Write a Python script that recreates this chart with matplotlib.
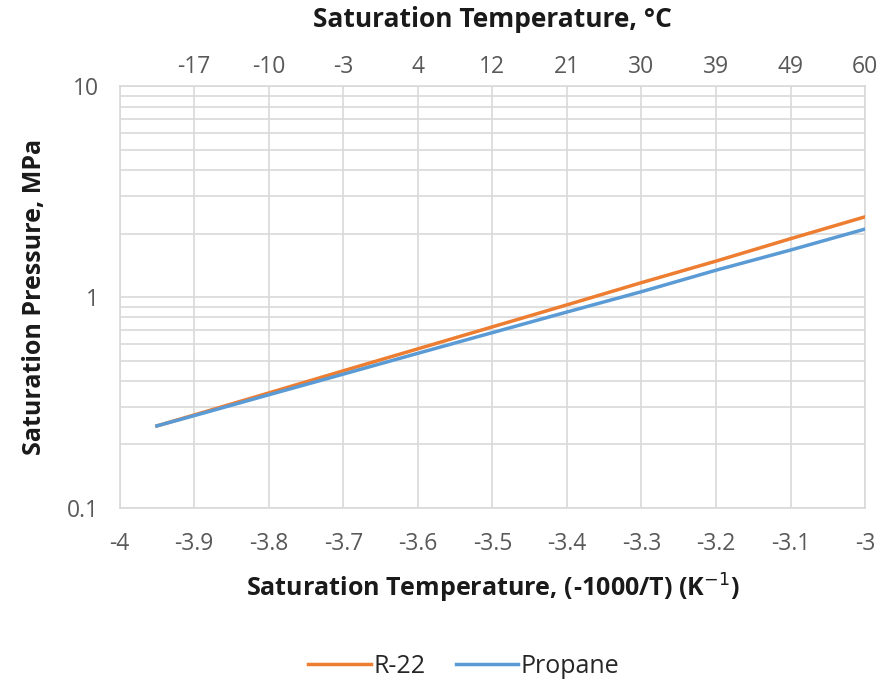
import matplotlib.pyplot as plt
from matplotlib.ticker import LogLocator, NullFormatter, FixedLocator

# inverse temperature, -1000/T (1/K)
x_inv = [-3.95, -3.9, -3.8, -3.7, -3.6, -3.5, -3.4, -3.3, -3.2, -3.1, -3.0]
r22 = [0.245, 0.276, 0.351, 0.447, 0.568, 0.722, 0.918, 1.17, 1.48, 1.89, 2.40]
propane = [0.245, 0.274, 0.344, 0.431, 0.541, 0.678, 0.849, 1.06, 1.34, 1.67, 2.10]

bottom_ticks = [-4, -3.9, -3.8, -3.7, -3.6, -3.5, -3.4, -3.3, -3.2, -3.1, -3]
bottom_labels = ['-4', '-3.9', '-3.8', '-3.7', '-3.6', '-3.5', '-3.4', '-3.3', '-3.2', '-3.1', '-3']
top_ticks = [-3.9, -3.8, -3.7, -3.6, -3.5, -3.4, -3.3, -3.2, -3.1, -3.0]
top_labels = ['-17', '-10', '-3', '4', '12', '21', '30', '39', '49', '60']

plt.rcParams['font.family'] = ['Open Sans', 'DejaVu Sans']
GRID = '#d9d9d9'
TXT = '#595959'

fig = plt.figure(figsize=(8.8, 6.86), dpi=100)
ax = fig.add_axes([0.136, 0.2595, 0.847, 0.615])

ax.plot(x_inv, r22, color='#ed7d31', lw=2.5, label='R-22', zorder=3)
ax.plot(x_inv, propane, color='#5b9bd5', lw=2.5, label='Propane', zorder=3)

ax.set_yscale('log')
ax.set_ylim(0.1, 10)
ax.set_xlim(-4, -3)
ax.set_xticks(bottom_ticks)
ax.set_xticklabels(bottom_labels)
ax.set_yticks([0.1, 1, 10])
ax.set_yticklabels(['0.1', '1', '10'])
ax.yaxis.set_minor_locator(LogLocator(base=10, subs=range(2, 10)))
ax.yaxis.set_minor_formatter(NullFormatter())

ax.grid(True, which='major', color=GRID, lw=1.2)
ax.grid(True, which='minor', axis='y', color=GRID, lw=1.2)
ax.tick_params(which='both', length=0, labelsize=16.5, colors=TXT)
ax.tick_params(axis='x', pad=17)
ax.tick_params(axis='y', pad=15)
for s in ax.spines.values():
    s.set_color(GRID)
    s.set_linewidth(1.2)

ax.set_xlabel('Saturation Temperature, (-1000/T) (K$^{-1}$)', fontsize=18,
              fontweight='bold', color='#1a1a1a', labelpad=12)
ax.set_ylabel('Saturation Pressure, MPa', fontsize=18, fontweight='bold',
              color='#1a1a1a', labelpad=14)

top = ax.secondary_xaxis('top')
top.xaxis.set_major_locator(FixedLocator(top_ticks))
top.set_xticklabels(top_labels)
top.tick_params(length=0, labelsize=16.5, colors=TXT, pad=5)
top.spines['top'].set_visible(False)
top.set_xlabel('Saturation Temperature, °C', fontsize=19, fontweight='bold',
               color='#1a1a1a', labelpad=20)

fig.legend(loc='lower center', ncol=2, frameon=False, fontsize=18,
           bbox_to_anchor=(0.527, -0.022), handlelength=2.5, columnspacing=1.2,
           handletextpad=0.1, labelcolor='#262626')

plt.savefig('out.png', dpi=100)
